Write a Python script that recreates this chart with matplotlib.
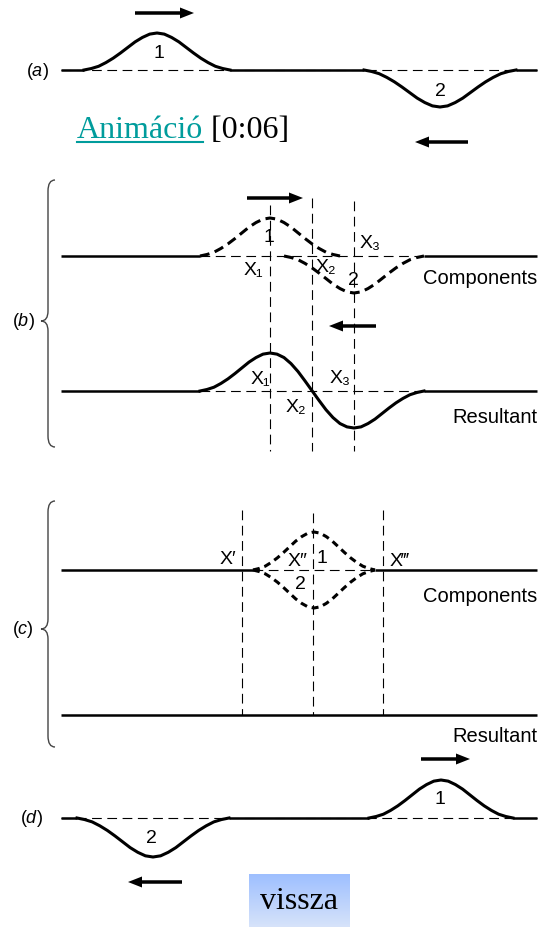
import numpy as np
import matplotlib
matplotlib.use("Agg")
import matplotlib.pyplot as plt
from matplotlib.path import Path
from matplotlib.patches import PathPatch, FancyArrow

plt.rcParams['font.family'] = ['Liberation Sans', 'DejaVu Sans']
plt.rcParams['mathtext.fontset'] = 'custom'
plt.rcParams['mathtext.rm'] = 'Liberation Sans'
plt.rcParams['mathtext.it'] = 'Liberation Sans:italic'
plt.rcParams['lines.scale_dashes'] = False

# pulse shape (height / peak height, 21 samples across the pulse)
pulse_profile = np.array([0.0, 0.04, 0.10, 0.20, 0.32, 0.46, 0.61, 0.76, 0.88, 0.97, 1.0,
                          0.97, 0.88, 0.76, 0.61, 0.46, 0.32, 0.20, 0.10, 0.04, 0.0])

# baselines of each row (image pixels)
base_a, base_b_comp, base_b_res = 71, 257, 392
base_c_comp, base_c_res, base_d = 571, 716, 819
line_left, line_right = 61, 537

# pulses: centres, amplitudes (up positive), half widths
a_centers, a_amps, a_halfw = [157, 440], [37, -37], [73, 76]
b_centers, b_amps, b_halfw = [270, 354], [38, -37], 70
c_centers, c_amps, c_halfw = [314, 314], [38, -38], 61
d_centers, d_amps, d_halfw = [153, 441], [-39, 38], [76, 72]

b_marks = [270, 312, 354]
c_marks = [242, 313, 383]

b_comp_labels = [("1", 269, 237), ("X\u2083", 370, 243), ("X\u2081", 253, 271),
                 ("X\u2082", 326, 268), ("2", 353, 281)]
b_res_labels = [("X\u2081", 260, 380), ("X\u2083", 340, 379), ("X\u2082", 296, 408)]
c_labels = [("X\u2032", 228, 560), ("X\u2033", 297, 562), ("1", 322, 559),
            ("2", 300, 585), ("X\u2034", 399, 562)]

# arrows: (tail x, head x, y)
arrows = [(135, 194, 14), (468, 415, 143), (247, 303, 199), (376, 329, 327),
          (421, 470, 760), (182, 128, 883)]

fig = plt.figure(figsize=(5.41, 9.28), dpi=100)
ax = fig.add_axes([0, 0, 1, 1])
ax.set_xlim(0, 541)
ax.set_ylim(928, 0)
ax.axis('off')

u = np.linspace(-1, 1, len(pulse_profile))
THICK = 2.2
BASE_LW = 1.8
THIN = 0.8


def pulse(center, half, amp, base):
    return center + u * half, base - amp * pulse_profile


def dashed_base(x0, x1, y):
    ax.plot([x0, x1], [y, y], color='black', lw=THIN, dashes=(7, 4))


def solid(x0, x1, y):
    ax.plot([x0, x1], [y, y], color='black', lw=BASE_LW, solid_capstyle='butt')


def vline(x, y0, y1):
    ax.plot([x, x], [y0, y1], color='black', lw=THIN, dashes=(7, 4))


def brace(x, top, tip, bottom):
    w = 7
    verts = [(x + w, top), (x, top), (x, top + 11),
             (x, tip - 10),
             (x, tip), (x - w, tip),
             (x, tip), (x, tip + 10),
             (x, bottom - 11),
             (x, bottom), (x + w, bottom)]
    codes = [Path.MOVETO, Path.CURVE3, Path.CURVE3, Path.LINETO,
             Path.CURVE3, Path.CURVE3, Path.CURVE3, Path.CURVE3,
             Path.LINETO, Path.CURVE3, Path.CURVE3]
    ax.add_patch(PathPatch(Path(verts, codes), fill=False, lw=1.0, edgecolor='#444444'))


lab = dict(fontsize=14, ha='center', va='center')
side = dict(fontsize=14.5, ha='right', va='center')
panel = dict(fontsize=13, ha='center', va='center')

# (a)
dashed_base(line_left, line_right, base_a)
for c, amp, hw in zip(a_centers, a_amps, a_halfw):
    x, y = pulse(c, hw, amp, base_a)
    ax.plot(x, y, color='black', lw=THICK)
solid(line_left, a_centers[0] - a_halfw[0], base_a)
solid(a_centers[0] + a_halfw[0], a_centers[1] - a_halfw[1], base_a)
solid(a_centers[1] + a_halfw[1], line_right, base_a)
ax.text(37, base_a, r"$(\mathit{a})$", **panel)
ax.text(159, 53, "1", **lab)
ax.text(440, 91, "2", **lab)

t = ax.text(77, 138, "Animáció", fontsize=23, family='Liberation Serif', color='#009c9c',
            ha='left', va='baseline')
ax.annotate(" [0:06]", xy=(1, 0), xycoords=t, fontsize=23, family='Liberation Serif',
            color='black', ha='left', va='bottom')
fig.canvas.draw()
bb = t.get_window_extent().transformed(ax.transData.inverted())
ax.plot([bb.x0, bb.x1], [143, 143], color='#009c9c', lw=1.5)

# (b) components
bl = b_centers[0] - b_halfw
br = b_centers[1] + b_halfw
dashed_base(bl, br, base_b_comp)
solid(line_left, bl, base_b_comp)
solid(br, line_right, base_b_comp)
for c, amp in zip(b_centers, b_amps):
    x, y = pulse(c, b_halfw, amp, base_b_comp)
    ax.plot(x, y, color='black', lw=THICK, dashes=(7, 4))

# (b) resultant = sum of the two components
step = b_halfw / 10
shift = int(round((b_centers[1] - b_centers[0]) / step))
n = len(pulse_profile)
res = np.zeros(n + shift)
res[:n] += b_amps[0] * pulse_profile
res[shift:] += b_amps[1] * pulse_profile
xr = bl + step * np.arange(n + shift)
dashed_base(bl, br, base_b_res)
ax.plot(xr, base_b_res - res, color='black', lw=THICK)
solid(line_left, bl, base_b_res)
solid(br, line_right, base_b_res)

for xm, top in zip(b_marks, [206, 199, 202]):
    vline(xm, top, 452)
for s, x, y in b_comp_labels + b_res_labels:
    ax.text(x, y, s, **lab)
ax.text(line_right, 279, "Components", **side)
ax.text(line_right, 418, "Resultant", **side)
brace(48, 181, 322, 448)
ax.text(23, 322, r"$(\mathit{b})$", **panel)

# (c)
cl = c_centers[0] - c_halfw
cr = c_centers[0] + c_halfw
dashed_base(cl, cr, base_c_comp)
solid(line_left, cl, base_c_comp)
solid(cr, line_right, base_c_comp)
for c, amp in zip(c_centers, c_amps):
    x, y = pulse(c, c_halfw, amp, base_c_comp)
    ax.plot(x, y, color='black', lw=THICK, dashes=(5, 3.5))
solid(line_left, line_right, base_c_res)
for xm, top in zip(c_marks, [511, 514, 511]):
    vline(xm, top, base_c_res)
for s, x, y in c_labels:
    ax.text(x, y, s, **lab)
ax.text(line_right, 597, "Components", **side)
ax.text(line_right, 737, "Resultant", **side)
brace(48, 502, 630, 748)
ax.text(23, 630, r"$(\mathit{c})$", **panel)

# (d)
dashed_base(line_left, line_right, base_d)
for c, amp, hw in zip(d_centers, d_amps, d_halfw):
    x, y = pulse(c, hw, amp, base_d)
    ax.plot(x, y, color='black', lw=THICK)
solid(line_left, d_centers[0] - d_halfw[0], base_d)
solid(d_centers[0] + d_halfw[0], d_centers[1] - d_halfw[1], base_d)
solid(d_centers[1] + d_halfw[1], line_right, base_d)
ax.text(31, base_d, r"$(\mathit{d})$", **panel)
ax.text(151, 839, "2", **lab)
ax.text(440, 800, "1", **lab)

for x0, x1, y in arrows:
    ax.add_patch(FancyArrow(x0, y, x1 - x0, 0, width=3.5, head_width=11, head_length=14,
                            length_includes_head=True, color='black', lw=0))

# "vissza" button
grad = np.linspace(0, 1, 60)[:, None, None]
top_c = np.array([0.62, 0.75, 1.0])
bot_c = np.array([0.84, 0.89, 0.98])
img = top_c * (1 - grad) + bot_c * grad
ax.imshow(img, extent=(249, 350, 928, 875), aspect='auto', origin='upper', zorder=1)
ax.text(299.5, 902, "vissza", fontsize=23, family='Liberation Serif', ha='center',
        va='center', zorder=2)
ax.set_xlim(0, 541)
ax.set_ylim(928, 0)

fig.savefig("out.png", dpi=100)
